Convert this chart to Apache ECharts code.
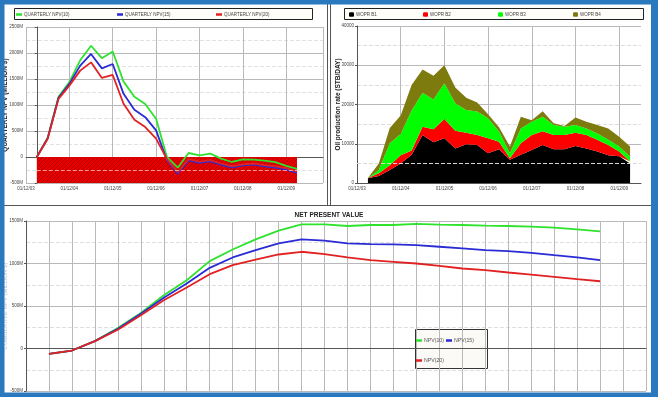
<!DOCTYPE html>
<html>
<head>
<meta charset="utf-8">
<script src="https://cdn.jsdelivr.net/npm/echarts@6/dist/echarts.min.js"></script>
<style>
html, body { margin: 0; padding: 0; background: #fff; }
#main { width: 658px; height: 397px; }
</style>
</head>
<body>
<div id="main"></div>
<script>
// date labels on the yearly grid lines of the top-left chart (first one is the axis start)
const dateLabels = ['01/12/03', '01/12/04', '01/12/05', '01/12/06', '01/12/07', '01/12/08', '01/12/09'];

// quarterly NPV, million $
const qNpv10 = [0, 370, 1160, 1440, 1860, 2140, 1900, 2030, 1450, 1160, 1020, 735, 0, -205, 77, 33, 65, -31, -96, -44, -50, -70, -100, -170, -230];
const qNpv15 = [0, 360, 1138, 1406, 1757, 1981, 1705, 1789, 1215, 908, 766, 511, -64, -320, -64, -115, -83, -147, -205, -160, -147, -180, -205, -243, -307];
const qNpv20 = [0, 352, 1118, 1373, 1661, 1820, 1521, 1578, 1023, 716, 575, 352, -40, -290, -40, -90, -60, -125, -180, -140, -125, -155, -180, -215, -280];

// oil production rate per well, STB/DAY (stacked)
const woprB1 = [1200, 1800, 3300, 5000, 7200, 12200, 10400, 11400, 8800, 9900, 9700, 7600, 8600, 5900, 7200, 8400, 9700, 8600, 8600, 9400, 8800, 8000, 7100, 6800, 5000];
const woprB2 = [100, 700, 1200, 2100, 1100, 2100, 3300, 4900, 4500, 2900, 2500, 3800, 1900, 400, 2900, 3800, 3500, 3600, 3600, 3400, 3400, 3000, 2600, 1200, 500];
const woprB3 = [0, 800, 5600, 5400, 10200, 8700, 7600, 9100, 7000, 5800, 6000, 5100, 2600, 1300, 3800, 3400, 3700, 2600, 2100, 2000, 1700, 1600, 1300, 1300, 1200];
const woprB4 = [0, 1700, 3900, 4700, 6500, 5900, 6000, 4600, 4000, 3100, 2300, 1000, 1100, 1700, 3000, 400, 1400, 400, 200, 1900, 1700, 2200, 2900, 2500, 2600];

// cumulative net present value, million $
const npv10 = [-63, -24, 87, 240, 417, 626, 803, 1028, 1165, 1283, 1386, 1461, 1461, 1441, 1453, 1453, 1465, 1457, 1453, 1445, 1441, 1433, 1421, 1402, 1378];
const npv15 = [-63, -24, 87, 232, 409, 598, 764, 949, 1071, 1157, 1236, 1283, 1268, 1236, 1228, 1224, 1217, 1197, 1177, 1157, 1146, 1126, 1098, 1071, 1039];
const npv20 = [-63, -24, 87, 220, 390, 567, 717, 874, 980, 1047, 1106, 1138, 1110, 1071, 1039, 1020, 1000, 972, 941, 921, 894, 870, 843, 815, 791];

// quarterly dates, starting one quarter before the first data point
const quarterLabels = ['01/12/03', '01/03/04', '01/06/04', '01/09/04', '01/12/04', '01/03/05', '01/06/05', '01/09/05', '01/12/05',
    '01/03/06', '01/06/06', '01/09/06', '01/12/06', '01/03/07', '01/06/07', '01/09/07', '01/12/07', '01/03/08', '01/06/08',
    '01/09/08', '01/12/08', '01/03/09', '01/06/09', '01/09/09', '01/12/09', '01/03/10', '01/06/10', '01/09/10'];

const GREEN = '#2ee22e', BLUE = '#2b2bd6', RED = '#e22222';
const OLIVE = '#7d7a0e';
const gridColor = '#b9b9b9', axisColor = '#555';

// red hatched fill for the negative zone
const pat = document.createElement('canvas');
pat.width = 4; pat.height = 4;
const pg = pat.getContext('2d');
pg.fillStyle = '#e80000'; pg.fillRect(0, 0, 4, 4);
pg.strokeStyle = '#b40000'; pg.lineWidth = 1;
pg.beginPath(); pg.moveTo(-1, 5); pg.lineTo(5, -1); pg.stroke();

function toPairs(arr, start) {
    return arr.map((v, i) => [i + start, v]);
}

function mLabel(v) {
    return v === 0 ? '0' : v + 'M';
}

let labelStyle = { fontSize: 4.5, color: '#444', fontFamily: 'Arial' };

function legendItem(name, left, top, icon, textSize, textColor) {
    return {
        data: [name], left: left, top: top, padding: 0,
        icon: icon, itemWidth: icon === 'rect' ? 6 : 5, itemHeight: icon === 'rect' ? 2.5 : 4.5, itemGap: 0,
        textStyle: { fontSize: textSize, color: textColor, fontFamily: 'Arial', padding: [0, 0, 0, -3] }
    };
}

let chart = echarts.init(document.getElementById('main'));

let option = {
    animation: false,
    backgroundColor: '#fff',
    title: {
        text: 'NET PRESENT VALUE', left: 'center', top: 207,
        textStyle: { fontSize: 6.5, fontWeight: 'bold', color: '#222', fontFamily: 'Arial' }
    },
    legend: [
        legendItem('QUARTERLY NPV(10)', 16, 12, 'rect', 4.5, '#444'),
        legendItem('QUARTERLY NPV(15)', 117, 12, 'rect', 4.5, '#444'),
        legendItem('QUARTERLY NPV(20)', 216, 12, 'rect', 4.5, '#444'),
        legendItem('WOPR B1', 349, 12, 'roundRect', 4.5, '#444'),
        legendItem('WOPR B2', 423, 12, 'roundRect', 4.5, '#444'),
        legendItem('WOPR B3', 498, 12, 'roundRect', 4.5, '#444'),
        legendItem('WOPR B4', 573, 12, 'roundRect', 4.5, '#444'),
        legendItem('NPV(10)', 416, 338, 'rect', 5.2, '#555'),
        legendItem('NPV(15)', 446, 338, 'rect', 5.2, '#555'),
        legendItem('NPV(20)', 416, 358, 'rect', 5.2, '#555')
    ],
    grid: [
        { left: 26, right: 335, top: 27, bottom: 214, outerBoundsMode: 'none', containLabel: false },
        { left: 357, right: 17, top: 26, bottom: 214, outerBoundsMode: 'none', containLabel: false },
        { left: 26, right: 12, top: 221, bottom: 6, outerBoundsMode: 'none', containLabel: false }
    ],
    xAxis: [
        {
            gridIndex: 0, type: 'value', min: -1, max: 26.4, interval: 4,
            axisLine: { lineStyle: { color: axisColor } },
            axisTick: { show: false },
            axisLabel: Object.assign({ margin: 3, showMaxLabel: false, formatter: v => dateLabels[(v + 1) / 4] }, labelStyle),
            splitLine: { lineStyle: { color: gridColor } }
        },
        {
            gridIndex: 1, type: 'category', boundaryGap: false, data: quarterLabels.slice(0, 27),
            axisLine: { lineStyle: { color: axisColor } },
            axisTick: { show: false },
            axisLabel: Object.assign({ margin: 3, interval: 3 }, labelStyle),
            splitLine: { show: true, interval: 3, lineStyle: { color: gridColor } }
        },
        {
            gridIndex: 2, type: 'value', min: 0, max: 27, interval: 1,
            axisLine: { lineStyle: { color: axisColor } },
            axisTick: { show: false },
            axisLabel: Object.assign({ margin: 2, formatter: v => quarterLabels[v] }, labelStyle),
            splitLine: { lineStyle: { color: gridColor } }
        }
    ],
    yAxis: [
        {
            gridIndex: 0, type: 'value', min: -500, max: 2500, interval: 500,
            name: 'QUARTERLY NPV (MILLION $)', nameLocation: 'middle', nameGap: 17, nameMoveOverlap: false,
            nameTextStyle: { fontSize: 6.5, fontWeight: 'bold', color: '#222', fontFamily: 'Arial' },
            axisLine: { show: true, lineStyle: { color: axisColor } },
            axisTick: { show: true, length: 2, lineStyle: { color: axisColor } },
            axisLabel: Object.assign({ margin: 3, formatter: mLabel }, labelStyle),
            splitLine: { lineStyle: { color: gridColor } },
            minorTick: { show: false, splitNumber: 2 },
            minorSplitLine: { show: true, lineStyle: { color: '#e2e2e2', type: 'dashed' } }
        },
        {
            gridIndex: 1, type: 'value', min: 0, max: 40000, interval: 10000,
            name: 'Oil production rate (STB/DAY)', nameLocation: 'middle', nameGap: 15.5, nameMoveOverlap: false,
            nameTextStyle: { fontSize: 6.5, fontWeight: 'bold', color: '#222', fontFamily: 'Arial' },
            axisLine: { show: true, lineStyle: { color: axisColor } },
            axisTick: { show: true, length: 2, lineStyle: { color: axisColor } },
            axisLabel: Object.assign({ margin: 3, formatter: v => String(v) }, labelStyle),
            splitLine: { lineStyle: { color: gridColor } },
            minorTick: { show: false, splitNumber: 2 },
            minorSplitLine: { show: true, lineStyle: { color: '#dcdcdc', type: 'dashed' } }
        },
        {
            gridIndex: 2, type: 'value', min: -500, max: 1500, interval: 500,
            name: 'CUMULATIVE NPV (MILLION $)', nameLocation: 'middle', nameGap: 17.5, nameMoveOverlap: false,
            nameTextStyle: { fontSize: 6, color: '#b4c2d2', fontFamily: 'Arial' },
            axisLine: { show: true, lineStyle: { color: axisColor } },
            axisTick: { show: true, length: 2, lineStyle: { color: axisColor } },
            axisLabel: Object.assign({ margin: 3, formatter: mLabel }, labelStyle),
            splitLine: { lineStyle: { color: gridColor } },
            minorTick: { show: false, splitNumber: 2 },
            minorSplitLine: { show: true, lineStyle: { color: '#dedede', type: 'dashed' } }
        }
    ],
    series: [
        {
            name: 'QUARTERLY NPV(10)', type: 'line', xAxisIndex: 0, yAxisIndex: 0,
            data: toPairs(qNpv10, 0), symbol: 'none', color: GREEN, lineStyle: { width: 1.8 },
            markArea: {
                silent: true, itemStyle: { color: { image: pat, repeat: 'repeat' } },
                data: [[{ coord: [0, 0] }, { coord: [24, -500] }]]
            }
        },
        {
            name: 'QUARTERLY NPV(15)', type: 'line', xAxisIndex: 0, yAxisIndex: 0,
            data: toPairs(qNpv15, 0), symbol: 'none', color: BLUE, lineStyle: { width: 1.8 }
        },
        {
            name: 'QUARTERLY NPV(20)', type: 'line', xAxisIndex: 0, yAxisIndex: 0,
            data: toPairs(qNpv20, 0), symbol: 'none', color: RED, lineStyle: { width: 1.8 },
            markLine: {
                silent: true, symbol: 'none', label: { show: false },
                lineStyle: { color: '#ff9a9a', type: 'dashed', width: 1 },
                data: [[{ coord: [0, -250] }, { coord: [24, -250] }]]
            }
        },
        {
            name: 'WOPR B1', type: 'line', xAxisIndex: 1, yAxisIndex: 1, stack: 'oil',
            data: ['-'].concat(woprB1), symbol: 'none', color: '#000',
            lineStyle: { width: 0 }, areaStyle: { color: '#000', opacity: 1 }
        },
        {
            name: 'WOPR B2', type: 'line', xAxisIndex: 1, yAxisIndex: 1, stack: 'oil',
            data: ['-'].concat(woprB2), symbol: 'none', color: '#ff0000',
            lineStyle: { width: 0 }, areaStyle: { color: '#ff0000', opacity: 1 }
        },
        {
            name: 'WOPR B3', type: 'line', xAxisIndex: 1, yAxisIndex: 1, stack: 'oil',
            data: ['-'].concat(woprB3), symbol: 'none', color: '#00ff00',
            lineStyle: { width: 0 }, areaStyle: { color: '#00ff00', opacity: 1 }
        },
        {
            name: 'WOPR B4', type: 'line', xAxisIndex: 1, yAxisIndex: 1, stack: 'oil',
            data: ['-'].concat(woprB4), symbol: 'none', color: OLIVE,
            lineStyle: { width: 0 }, areaStyle: { color: OLIVE, opacity: 1 },
            markLine: {
                silent: true, symbol: 'none', label: { show: false },
                lineStyle: { color: '#d8d8d8', type: 'dashed', width: 1 },
                data: [{ yAxis: 5000 }]
            }
        },
        {
            name: 'NPV(10)', type: 'line', xAxisIndex: 2, yAxisIndex: 2,
            data: toPairs(npv10, 1), symbol: 'none', color: GREEN, lineStyle: { width: 1.8 }
        },
        {
            name: 'NPV(15)', type: 'line', xAxisIndex: 2, yAxisIndex: 2,
            data: toPairs(npv15, 1), symbol: 'none', color: BLUE, lineStyle: { width: 1.8 }
        },
        {
            name: 'NPV(20)', type: 'line', xAxisIndex: 2, yAxisIndex: 2,
            data: toPairs(npv20, 1), symbol: 'none', color: RED, lineStyle: { width: 1.8 }
        }
    ],
    graphic: [
        // legend boxes
        { type: 'rect', z: 0, shape: { x: 14.5, y: 8.5, width: 298, height: 11 }, style: { fill: '#fffdf7', stroke: '#222', lineWidth: 1 } },
        { type: 'rect', z: 0, shape: { x: 344.5, y: 8.5, width: 299, height: 11 }, style: { fill: '#fffdf7', stroke: '#222', lineWidth: 1 } },
        { type: 'rect', z: 0, shape: { x: 415.5, y: 329.5, width: 72, height: 39 }, style: { fill: '#fcfaf6', stroke: '#333', lineWidth: 1 } },
        // panel separators
        { type: 'line', z: 90, shape: { x1: 327.5, y1: 4, x2: 327.5, y2: 205 }, style: { stroke: '#555', lineWidth: 1 } },
        { type: 'line', z: 90, shape: { x1: 330.5, y1: 4, x2: 330.5, y2: 205 }, style: { stroke: '#555', lineWidth: 1 } },
        { type: 'line', z: 90, shape: { x1: 4, y1: 205.5, x2: 652, y2: 205.5 }, style: { stroke: '#555', lineWidth: 1 } },
        // blue window frame
        { type: 'rect', z: 100, shape: { x: 0, y: 0, width: 658, height: 4.5 }, style: { fill: '#2a78bd' } },
        { type: 'rect', z: 100, shape: { x: 0, y: 0, width: 4.5, height: 397 }, style: { fill: '#2a78bd' } },
        { type: 'rect', z: 100, shape: { x: 651, y: 0, width: 7, height: 397 }, style: { fill: '#2a78bd' } },
        { type: 'rect', z: 100, shape: { x: 0, y: 392.5, width: 658, height: 5 }, style: { fill: '#2a78bd' } }
    ]
};

chart.setOption(option);
</script>
</body>
</html>
